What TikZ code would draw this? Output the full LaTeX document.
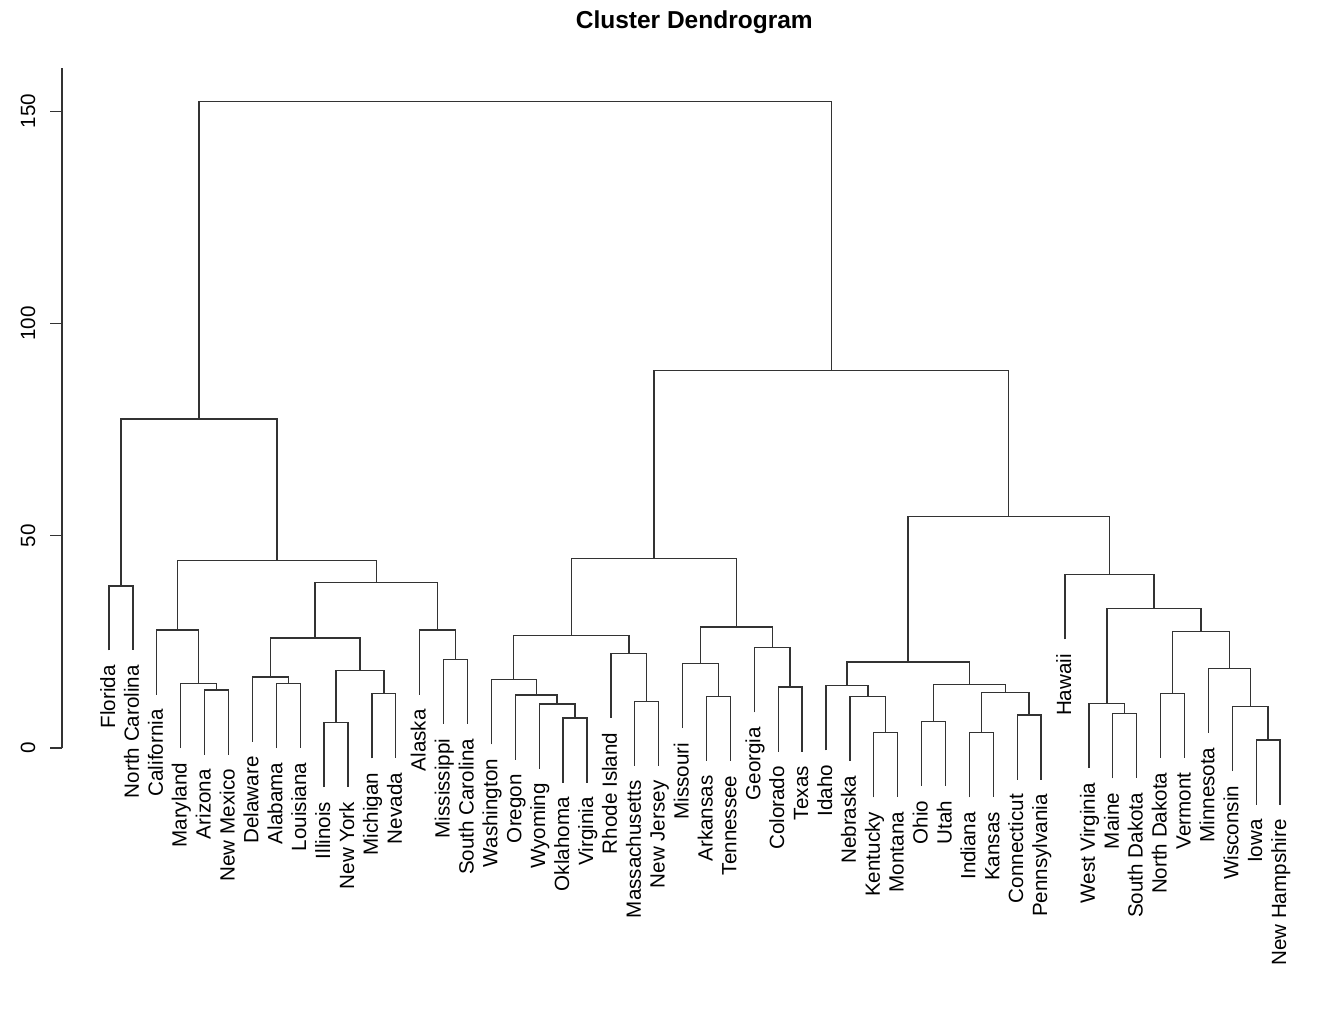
\documentclass[tikz,border=0pt]{standalone}
\usepackage{fontspec}
\setmainfont{Liberation Sans}
\usetikzlibrary{calc}
\tikzset{
  dend/.style={line width=1.35pt, draw=black!80},
  lab/.style={rotate=90, anchor=base east, inner sep=0pt, font=\fontsize{20.6}{24}\selectfont},
  ticklab/.style={rotate=90, anchor=base, inner sep=0pt, font=\fontsize{20.6}{24}\selectfont},
}
\newcommand\dleaf[4]{%
  \coordinate (#1) at ({109+23.9*#2}, {#3-15.23});
  \node[lab] (t#1) at ([xshift=6pt,yshift=-14.5pt]#1) {#4};}
\newcommand\dmerge[4]{%
  \coordinate (h#1) at (0,#4);
  \coordinate (tmp) at ($(#2)!.5!(#3)$);
  \coordinate (#1) at (tmp |- h#1);
  \draw[dend] (#2) |- (#1) -| (#3);}
\begin{document}
\begin{tikzpicture}[x=1pt, y=4.245pt]
\useasboundingbox (0,-63.13) rectangle (1318,176.21);
\fill[white] (0,-63.13) rectangle (1318,176.21);
% title
\node[font=\bfseries\fontsize{24.5}{28}\selectfont, anchor=base, inner sep=0pt] (title) at (694.3,169.4) {Cluster Dendrogram};
% axis
\coordinate (ax0) at (62,0);
\coordinate (axtop) at (62,160.2);
\draw[dend] (ax0) -- (axtop);
\foreach \v in {0,50,100,150}{
  \coordinate (tk\v) at (62,\v);
  \draw[dend] (tk\v) -- ++(-12,0);
  \node[ticklab] (tl\v) at (35,\v) {\v};
}
% leaves
\dleaf{FL}{0}{38.2}{Florida}
\dleaf{NC}{1}{38.2}{North Carolina}
\dleaf{CA}{2}{27.8}{California}
\dleaf{MD}{3}{15.2}{Maryland}
\dleaf{AZ}{4}{13.7}{Arizona}
\dleaf{NM}{5}{13.7}{New Mexico}
\dleaf{DE}{6}{16.7}{Delaware}
\dleaf{AL}{7}{15.2}{Alabama}
\dleaf{LA}{8}{15.2}{Louisiana}
\dleaf{IL}{9}{6.0}{Illinois}
\dleaf{NY}{10}{6.0}{New York}
\dleaf{MI}{11}{12.8}{Michigan}
\dleaf{NV}{12}{12.8}{Nevada}
\dleaf{AK}{13}{27.8}{Alaska}
\dleaf{MS}{14}{20.9}{Mississippi}
\dleaf{SC}{15}{20.9}{South Carolina}
\dleaf{WA}{16}{16.1}{Washington}
\dleaf{OR}{17}{12.5}{Oregon}
\dleaf{WY}{18}{10.4}{Wyoming}
\dleaf{OK}{19}{7.1}{Oklahoma}
\dleaf{VA}{20}{7.1}{Virginia}
\dleaf{RI}{21}{22.3}{Rhode Island}
\dleaf{MA}{22}{11.0}{Massachusetts}
\dleaf{NJ}{23}{11.0}{New Jersey}
\dleaf{MO}{24}{19.9}{Missouri}
\dleaf{AR}{25}{12.2}{Arkansas}
\dleaf{TN}{26}{12.2}{Tennessee}
\dleaf{GA}{27}{23.6}{Georgia}
\dleaf{CO}{28}{14.4}{Colorado}
\dleaf{TX}{29}{14.4}{Texas}
\dleaf{ID}{30}{14.7}{Idaho}
\dleaf{NE}{31}{12.2}{Nebraska}
\dleaf{KY}{32}{3.6}{Kentucky}
\dleaf{MT}{33}{3.6}{Montana}
\dleaf{OH}{34}{6.3}{Ohio}
\dleaf{UT}{35}{6.3}{Utah}
\dleaf{IN}{36}{3.6}{Indiana}
\dleaf{KS}{37}{3.6}{Kansas}
\dleaf{CT}{38}{7.8}{Connecticut}
\dleaf{PA}{39}{7.8}{Pennsylvania}
\dleaf{HI}{40}{40.8}{Hawaii}
\dleaf{WV}{41}{10.5}{West Virginia}
\dleaf{ME}{42}{8.1}{Maine}
\dleaf{SD}{43}{8.1}{South Dakota}
\dleaf{ND}{44}{12.9}{North Dakota}
\dleaf{VT}{45}{12.9}{Vermont}
\dleaf{MN}{46}{18.8}{Minnesota}
\dleaf{WI}{47}{9.8}{Wisconsin}
\dleaf{IA}{48}{1.9}{Iowa}
\dleaf{NH}{49}{1.9}{New Hampshire}
% left cluster
\dmerge{mAZNM}{AZ}{NM}{13.7}
\dmerge{mMD}{MD}{mAZNM}{15.2}
\dmerge{mCA}{CA}{mMD}{27.8}
\dmerge{mALLA}{AL}{LA}{15.2}
\dmerge{mDE}{DE}{mALLA}{16.7}
\dmerge{mILNY}{IL}{NY}{6.0}
\dmerge{mMINV}{MI}{NV}{12.8}
\dmerge{mINMN}{mILNY}{mMINV}{18.2}
\dmerge{mDENV}{mDE}{mINMN}{25.9}
\dmerge{mMSSC}{MS}{SC}{20.9}
\dmerge{mAK}{AK}{mMSSC}{27.8}
\dmerge{mDESC}{mDENV}{mAK}{39.0}
\dmerge{mCASC}{mCA}{mDESC}{44.1}
\dmerge{mFLNC}{FL}{NC}{38.2}
\dmerge{mLeft}{mFLNC}{mCASC}{77.5}
% middle cluster
\dmerge{mOKVA}{OK}{VA}{7.1}
\dmerge{mWY}{WY}{mOKVA}{10.4}
\dmerge{mOR}{OR}{mWY}{12.5}
\dmerge{mWA}{WA}{mOR}{16.1}
\dmerge{mMANJ}{MA}{NJ}{11.0}
\dmerge{mRI}{RI}{mMANJ}{22.3}
\dmerge{mWANJ}{mWA}{mRI}{26.5}
\dmerge{mARTN}{AR}{TN}{12.2}
\dmerge{mMO}{MO}{mARTN}{19.9}
\dmerge{mCOTX}{CO}{TX}{14.4}
\dmerge{mGA}{GA}{mCOTX}{23.6}
\dmerge{mMOTX}{mMO}{mGA}{28.5}
\dmerge{mMid}{mWANJ}{mMOTX}{44.7}
% right cluster
\dmerge{mKYMT}{KY}{MT}{3.6}
\dmerge{mNE}{NE}{mKYMT}{12.2}
\dmerge{mID}{ID}{mNE}{14.7}
\dmerge{mOHUT}{OH}{UT}{6.3}
\dmerge{mINKS}{IN}{KS}{3.6}
\dmerge{mCTPA}{CT}{PA}{7.8}
\dmerge{mIKCP}{mINKS}{mCTPA}{13.1}
\dmerge{mOUIP}{mOHUT}{mIKCP}{15.0}
\dmerge{mIDPA}{mID}{mOUIP}{20.3}
\dmerge{mMESD}{ME}{SD}{8.1}
\dmerge{mWV}{WV}{mMESD}{10.5}
\dmerge{mNDVT}{ND}{VT}{12.9}
\dmerge{mIANH}{IA}{NH}{1.9}
\dmerge{mWI}{WI}{mIANH}{9.8}
\dmerge{mMN}{MN}{mWI}{18.8}
\dmerge{mNDNH}{mNDVT}{mMN}{27.4}
\dmerge{mWVNH}{mWV}{mNDNH}{32.8}
\dmerge{mHI}{HI}{mWVNH}{40.8}
\dmerge{mRight}{mIDPA}{mHI}{54.6}
\dmerge{mRBig}{mMid}{mRight}{89.0}
\dmerge{mTop}{mLeft}{mRBig}{152.3}
\end{tikzpicture}
\end{document}
